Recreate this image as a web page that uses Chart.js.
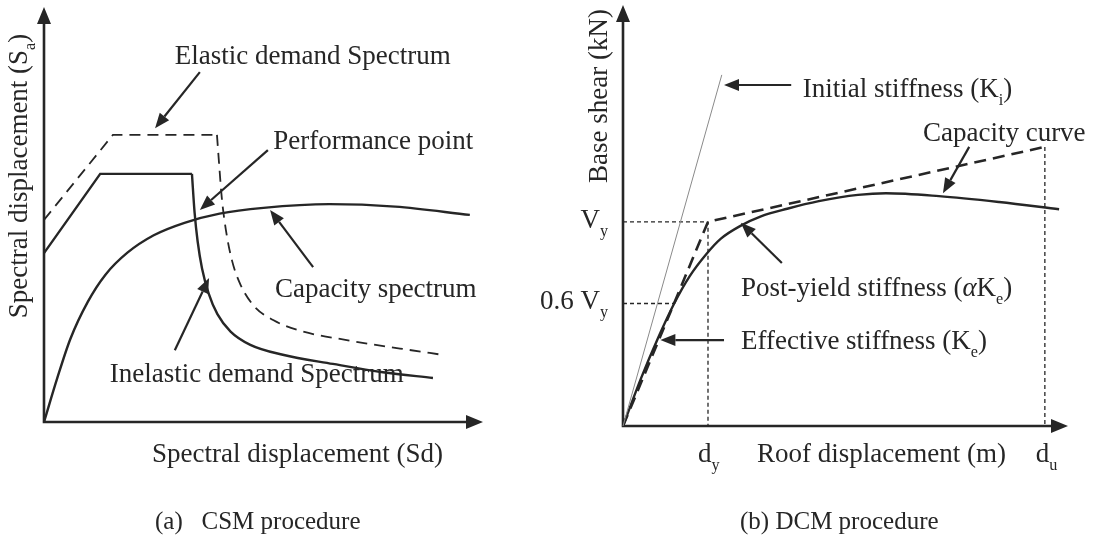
<!DOCTYPE html>
<html>
<head>
<meta charset="utf-8">
<script src="https://cdn.jsdelivr.net/npm/chart.js@4.4.1/dist/chart.umd.min.js"></script>
<style>
  html, body { margin: 0; padding: 0; background: #fff; }
  #wrap { position: relative; width: 1094px; height: 535px; overflow: hidden; background: #fff; }
  #csm { position: absolute; left: 0; top: 0; }
  #dcm { position: absolute; left: 540px; top: 0; }
</style>
</head>
<body>
<div id="wrap">
  <canvas id="csm" width="540" height="535"></canvas>
  <canvas id="dcm" width="554" height="535"></canvas>
</div>
<script>
// ---------- (a) CSM procedure: spectra in relative Sd / Sa units (0-100) ----------
const elasticSd   = [0, 15.7, 39.4, 39.9, 40.5, 41.4, 42.8, 44.8, 47.8, 52.3, 58.3, 69.7, 81.1, 91.3];
const elasticSa   = [48.7, 69.2, 69.2, 62.0, 54.0, 46.5, 39.0, 33.0, 28.0, 24.5, 22.0, 19.6, 17.7, 16.1];
const inelasticSd = [0, 12.8, 33.7, 34.3, 35.0, 36.0, 37.5, 39.5, 42.5, 47.0, 54.4, 65.8, 77.2, 88.6];
const inelasticSa = [40.7, 59.8, 59.8, 50.5, 43.5, 37.0, 31.0, 26.0, 21.8, 18.6, 16.2, 14.0, 12.0, 10.6];
const capacitySd  = [0, 3, 6, 10, 14, 19, 25, 32, 40, 50, 65, 80, 97];
const capacitySa  = [0, 10.5, 20.0, 29.0, 35.5, 40.8, 45.0, 48.0, 50.2, 51.6, 52.5, 51.9, 49.9];
const plateauEnd  = 2;   // last index of the straight (rising + flat) branch of each demand spectrum

// ---------- (b) DCM procedure: pushover curve in relative units (0-100) ----------
const roofDisp  = [0, 4, 8, 11.5, 15, 18.7, 22, 26.5, 31, 36.9, 44, 52.8, 59.1, 71, 84.5, 98];
const baseShear = [0, 11.2, 21.2, 29.1, 35.6, 40.8, 44.5, 47.6, 49.8, 51.6, 53.4, 54.9, 55.3, 54.6, 53.2, 51.5];
const dy = 19.1;          // yield displacement
const du = 94.8;          // ultimate displacement
const Vy = 48.5;          // yield base shear
const Vu = 66.3;          // base shear of the idealised curve at du
const secantRatio = 0.6;  // effective stiffness taken at 0.6 Vy
const initialK = [22.2, 83.4]; // end point of the initial-stiffness tangent

const SERIF = '"Liberation Serif", "DejaVu Serif", "Times New Roman", serif';
const INK = '#262626';
const FS = 27;   // label font size

const zip = (xs, ys, a = 0, b = xs.length - 1) =>
  xs.slice(a, b + 1).map((x, i) => ({ x, y: ys[a + i] }));

// ---------- text helpers (plain text with subscripts / italics) ----------
function fontOf(size, italic) { return (italic ? 'italic ' : '') + size + 'px ' + SERIF; }
function norm(parts) { return parts.map(p => typeof p === 'string' ? { t: p } : p); }
function richWidth(ctx, parts, size) {
  let w = 0;
  for (const p of norm(parts)) {
    ctx.font = fontOf(p.sub ? size * 0.6 : size, p.it);
    w += ctx.measureText(p.t).width;
  }
  return w;
}
function drawRich(ctx, parts, x, yMid, size, align) {
  const w = richWidth(ctx, parts, size);
  let cx = align === 'center' ? x - w / 2 : align === 'right' ? x - w : x;
  const base = yMid + size * 0.33;
  ctx.textAlign = 'left';
  ctx.textBaseline = 'alphabetic';
  ctx.fillStyle = INK;
  for (const p of norm(parts)) {
    const s = p.sub ? size * 0.6 : size;
    ctx.font = fontOf(s, p.it);
    ctx.fillText(p.t, cx, p.sub ? base + size * 0.3 : base);
    cx += ctx.measureText(p.t).width;
  }
}
function drawArrow(ctx, x1, y1, x2, y2, head = 15, half = 6) {
  const a = Math.atan2(y2 - y1, x2 - x1);
  const bx = x2 - head * Math.cos(a), by = y2 - head * Math.sin(a);
  ctx.save();
  ctx.strokeStyle = INK; ctx.fillStyle = INK; ctx.lineWidth = 2.2;
  ctx.beginPath(); ctx.moveTo(x1, y1); ctx.lineTo(bx, by); ctx.stroke();
  ctx.beginPath();
  ctx.moveTo(x2, y2);
  ctx.lineTo(bx + half * Math.sin(a), by - half * Math.cos(a));
  ctx.lineTo(bx - half * Math.sin(a), by + half * Math.cos(a));
  ctx.closePath(); ctx.fill();
  ctx.restore();
}
function drawAxes(ctx, area) {
  const { left, right, top, bottom } = area;
  ctx.save();
  ctx.strokeStyle = INK; ctx.fillStyle = INK; ctx.lineWidth = 2.6;
  ctx.beginPath();
  ctx.moveTo(left, top + 14); ctx.lineTo(left, bottom); ctx.lineTo(right - 14, bottom);
  ctx.stroke();
  ctx.beginPath();
  ctx.moveTo(left, top); ctx.lineTo(left - 7, top + 17); ctx.lineTo(left + 7, top + 17); ctx.closePath();
  ctx.moveTo(right, bottom); ctx.lineTo(right - 17, bottom - 7); ctx.lineTo(right - 17, bottom + 7); ctx.closePath();
  ctx.fill();
  ctx.restore();
}

// ---------- annotations, positioned in data units ----------
const csmNotes = [
  { text: ['Elastic demand Spectrum'], at: [29.8, 88.4], from: [35.5, 84.3], to: [25.3, 70.8] },
  { text: ['Performance point'],       at: [52.2, 68.0], from: [51.0, 65.5], to: [35.5, 51.1] },
  { text: ['Capacity spectrum'],       at: [52.6, 32.3], from: [61.3, 37.3], to: [51.5, 51.1] },
  { text: ['Inelastic demand Spectrum'], at: [15.0, 11.8], from: [29.8, 17.3], to: [37.6, 34.7] }
];
const dcmNotes = [
  { text: ['Initial stiffness (K', { t: 'i', sub: true }, ')'], at: [40.4, 80.3], from: [37.8, 81.0], to: [22.7, 81.0] },
  { text: ['Capacity curve'], at: [67.4, 69.8], from: [77.8, 66.3], to: [71.9, 55.3] },
  { text: ['Post-yield stiffness (', { t: 'α', it: true }, 'K', { t: 'e', sub: true }, ')'], at: [26.5, 33.0], from: [35.7, 38.7], to: [26.5, 48.3] },
  { text: ['Effective stiffness (K', { t: 'e', sub: true }, ')'], at: [26.5, 20.4], from: [22.7, 20.4], to: [8.4, 20.4] }
];

function notesPlugin(notes, extra) {
  return {
    id: 'notes',
    beforeDatasetsDraw(chart) { drawAxes(chart.ctx, chart.chartArea); },
    afterDatasetsDraw(chart) {
      const ctx = chart.ctx, X = chart.scales.x, Y = chart.scales.y;
      for (const n of notes) {
        drawArrow(ctx, X.getPixelForValue(n.from[0]), Y.getPixelForValue(n.from[1]),
                       X.getPixelForValue(n.to[0]),   Y.getPixelForValue(n.to[1]));
        drawRich(ctx, n.text, X.getPixelForValue(n.at[0]), Y.getPixelForValue(n.at[1]), FS, 'left');
      }
      extra(chart, ctx, X, Y);
    }
  };
}

function baseOptions(padding) {
  return {
    responsive: false,
    animation: false,
    events: [],
    layout: { padding },
    plugins: { legend: { display: false }, tooltip: { enabled: false }, title: { display: false } },
    scales: {
      x: { type: 'linear', min: 0, max: 100, display: false },
      y: { type: 'linear', min: 0, max: 100, display: false }
    },
    elements: { point: { radius: 0 } }
  };
}
function line(data, opts) {
  return Object.assign({ data, borderColor: INK, borderWidth: 2.4, fill: false, tension: 0,
                         pointRadius: 0, clip: false, showLine: true }, opts);
}

// ---------- (a) CSM chart ----------
new Chart(document.getElementById('csm'), {
  type: 'scatter',
  data: {
    datasets: [
      line(zip(elasticSd, elasticSa, 0, plateauEnd), { borderDash: [11, 7], borderWidth: 1.8 }),
      line(zip(elasticSd, elasticSa, plateauEnd), { borderDash: [11, 7], borderWidth: 1.8, cubicInterpolationMode: 'monotone' }),
      line(zip(inelasticSd, inelasticSa, 0, plateauEnd)),
      line(zip(inelasticSd, inelasticSa, plateauEnd), { cubicInterpolationMode: 'monotone' }),
      line(zip(capacitySd, capacitySa), { cubicInterpolationMode: 'monotone' })
    ]
  },
  options: baseOptions({ left: 44, right: 57, top: 7, bottom: 113 }),
  plugins: [notesPlugin(csmNotes, (chart, ctx) => {
    // axis titles
    ctx.save();
    ctx.translate(18, 176);
    ctx.rotate(-Math.PI / 2);
    drawRich(ctx, ['Spectral displacement (S', { t: 'a', sub: true }, ')'], 0, 0, FS, 'center');
    ctx.restore();
    drawRich(ctx, ['Spectral displacement (Sd)'], 152, 453, FS, 'left');
    // caption
    drawRich(ctx, ['(a)\u2002 CSM procedure'], 155, 521, 25, 'left');
  })]
});

// ---------- (b) DCM chart ----------
new Chart(document.getElementById('dcm'), {
  type: 'scatter',
  data: {
    datasets: [
      line([{ x: 0, y: 0 }, { x: initialK[0], y: initialK[1] }], { borderColor: '#8a8a8a', borderWidth: 1 }),
      line([{ x: 0, y: Vy }, { x: dy, y: Vy }, { x: dy, y: 0 }], { borderDash: [4, 3], borderWidth: 1.3 }),
      line([{ x: 0, y: secantRatio * Vy }, { x: secantRatio * dy, y: secantRatio * Vy }], { borderDash: [4, 3], borderWidth: 1.3 }),
      line([{ x: du, y: Vu }, { x: du, y: 0 }], { borderDash: [4, 3], borderWidth: 1.3 }),
      line([{ x: 0, y: 0 }, { x: dy, y: Vy }, { x: du, y: Vu }], { borderDash: [12, 7], borderWidth: 2.6 }),
      line(zip(roofDisp, baseShear), { cubicInterpolationMode: 'monotone' })
    ]
  },
  options: baseOptions({ left: 83, right: 26, top: 5, bottom: 109 }),
  plugins: [notesPlugin(dcmNotes, (chart, ctx, X, Y) => {
    const ax = chart.chartArea.left;
    // value labels on the axes
    drawRich(ctx, ['V', { t: 'y', sub: true }], ax - 15, Y.getPixelForValue(Vy) - 3, FS, 'right');
    drawRich(ctx, ['0.6 V', { t: 'y', sub: true }], ax - 15, Y.getPixelForValue(secantRatio * Vy) - 3, FS, 'right');
    drawRich(ctx, ['d', { t: 'y', sub: true }], X.getPixelForValue(dy) - 10, 453, FS, 'left');
    drawRich(ctx, ['d', { t: 'u', sub: true }], X.getPixelForValue(du) - 9, 453, FS, 'left');
    // axis titles
    ctx.save();
    ctx.translate(58, 96);
    ctx.rotate(-Math.PI / 2);
    drawRich(ctx, ['Base shear (kN)'], 0, 0, FS, 'center');
    ctx.restore();
    drawRich(ctx, ['Roof displacement (m)'], 217, 453, FS, 'left');
    // caption
    drawRich(ctx, ['(b) DCM procedure'], 200, 521, 25, 'left');
  })]
});
</script>
</body>
</html>
